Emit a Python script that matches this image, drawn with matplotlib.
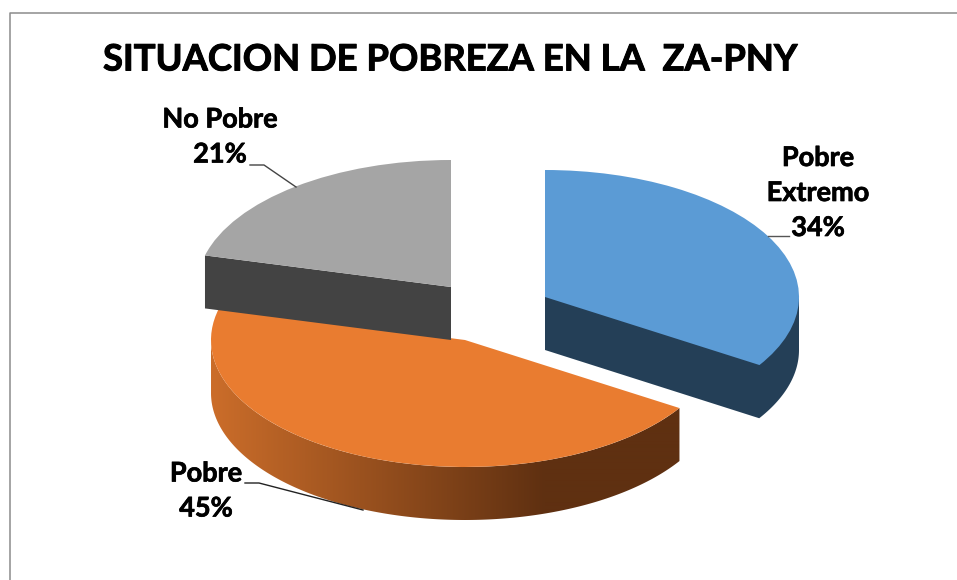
import numpy as np
import matplotlib
matplotlib.use("Agg")
import matplotlib.pyplot as plt
import matplotlib.patheffects as pe
from matplotlib.patches import Wedge, Polygon
from matplotlib.transforms import Affine2D
from matplotlib.colors import to_rgb

categories = ["Pobre Extremo", "Pobre", "No Pobre"]
shares = [34, 45, 21]
title = "SITUACION DE POBREZA EN LA  ZA-PNY"
label_texts = ["Pobre\nExtremo\n34%", "Pobre\n45%", "No Pobre\n21%"]

# style / layout (pixels)
centers = [(545, 297), (465, 340), (451, 287)]
top_colors = ["#5B9BD5", "#E97C30", "#A5A5A5"]
side_colors = ["#243F57", None, "#434343"]
label_pos = [(818, 193), (206, 491), (220, 137)]
leaders = [[(768, 236), (789, 236)],
           [(245, 483), (259, 483), (363, 510)],
           [(250, 165), (264, 165), (296, 187)]]
RX, RY, DEPTH = 254, 127, 53

plt.rcParams['font.family'] = ['Lato', 'DejaVu Sans']
fig = plt.figure(figsize=(9.57, 5.8), dpi=100)
ax = fig.add_axes([0, 0, 1, 1])
ax.axis("off")

# chart frame
ax.plot([9.5, 9.5, 957], [580, 12.5, 12.5], color="#8C8C8C", lw=1.1, zorder=1)

# clockwise angle from top for each slice boundary
edges = np.concatenate([[0], np.cumsum(shares)]) / sum(shares) * 360.0


def point(c, a):
    r = np.radians(a)
    return c[0] + RX * np.sin(r), c[1] - RY * np.cos(r)


def top(c, a0, a1, color, z):
    tr = Affine2D().scale(RX, -RY).translate(*c) + ax.transData
    ax.add_patch(Wedge((0, 0), 1, 90 - a1, 90 - a0, facecolor=color,
                       edgecolor="none", transform=tr, zorder=z))


ax.set_xlim(0, 957)
ax.set_ylim(580, 0)

# Orange slice: outer rim with horizontal gradient, then top
c = centers[1]
angs = np.arange(edges[1], 270.5, 0.5)
xs, ys = point(c, angs)
rim = Polygon(np.c_[np.r_[xs, xs[::-1]], np.r_[ys, ys[::-1] + DEPTH]],
              closed=True, transform=ax.transData)
gx = np.arange(205, 690)
t = np.clip((gx - 212) / (545 - 212), 0, 1)[None, :, None]
grad = np.array(to_rgb("#CB6D2A"))[None, None, :] * (1 - t) + \
       np.array(to_rgb("#5F3011"))[None, None, :] * t
im = ax.imshow(grad, extent=[205, 690, 530, 300], aspect="auto",
               interpolation="bilinear", zorder=3)
im.set_clip_path(rim)
top(c, edges[1], edges[2], top_colors[1], 3.2)

# Grey slice: cut wall and top, in front of orange
c = centers[2]
ex, ey = point(c, edges[2])
ax.fill([ex, c[0], c[0], ex], [ey, c[1], c[1] + DEPTH, ey + DEPTH],
        color=side_colors[2], lw=0, zorder=4)
top(c, edges[2], edges[3], top_colors[2], 4.2)

# Blue slice: cut wall and rim as one shape, then top
c = centers[0]
angs = np.arange(90, edges[1] + 0.5, 0.5)
xs, ys = point(c, angs)
ax.fill(np.r_[c[0], c[0], xs[::-1], xs[0], c[0]],
        np.r_[c[1], c[1] + DEPTH, ys[::-1] + DEPTH, ys[0], c[1]],
        color=side_colors[0], lw=0, zorder=5)
top(c, edges[0], edges[1], top_colors[0], 5.2)

ax.set_xlim(0, 957)
ax.set_ylim(580, 0)

# Leader lines and labels
for pts, col in zip(leaders, ["#555555", "#222222", "#444444"]):
    p = np.array(pts)
    ax.plot(p[:, 0], p[:, 1], color=col, lw=1.0, zorder=6)
stroke = [pe.withStroke(linewidth=0.5, foreground="black")]
for txt, (x, y) in zip(label_texts, label_pos):
    ax.text(x, y, txt, ha="center", va="center", fontsize=19.5,
            fontweight="bold", color="black", linespacing=1.55, zorder=7,
            path_effects=stroke)

ax.text(103, 60, title, ha="left", va="center", fontsize=26.2,
        fontweight="bold", color="black", zorder=7,
        path_effects=[pe.withStroke(linewidth=0.7, foreground="black")])

fig.savefig("out.png", dpi=100, facecolor="white")
